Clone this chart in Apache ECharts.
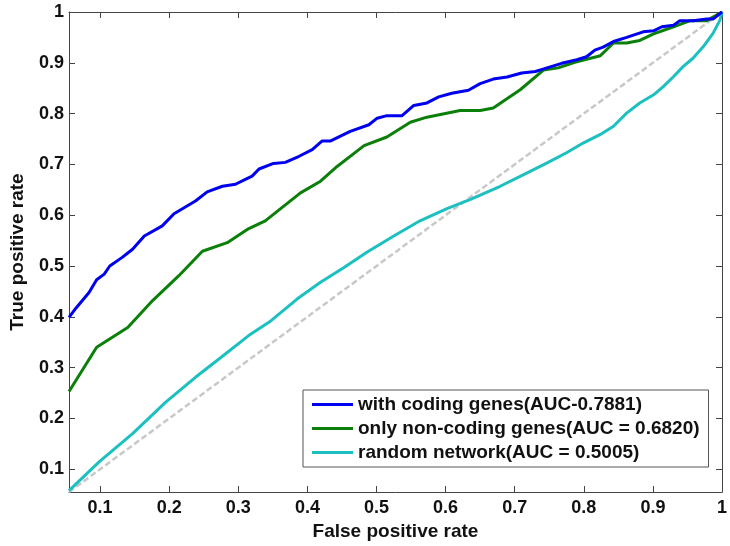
<!DOCTYPE html>
<html>
<head>
<meta charset="utf-8">
<script src="https://cdn.jsdelivr.net/npm/echarts@6/dist/echarts.min.js"></script>
<style>html,body{margin:0;padding:0;background:#fff;}#c{width:730px;height:546px;}</style>
</head>
<body>
<div id="c"></div>
<script>
const seriesNames = ['with coding genes(AUC-0.7881)', 'only non-coding genes(AUC = 0.6820)', 'random network(AUC = 0.5005)'];
const xLabelName = 'False positive rate';
const yLabelName = 'True positive rate';

const fprCoding = [0.055,0.065,0.084,0.095,0.106,0.114,0.132,0.147,0.164,0.190,0.207,0.238,0.255,0.277,0.296,0.308,0.320,0.330,0.351,0.368,0.388,0.407,0.421,0.433,0.462,0.489,0.501,0.515,0.537,0.554,0.573,0.590,0.609,0.633,0.650,0.669,0.689,0.710,0.730,0.742,0.768,0.790,0.804,0.816,0.828,0.843,0.862,0.886,0.901,0.913,0.930,0.939,0.958,0.978,0.987,1.0];
const tprCoding = [0.399,0.417,0.448,0.473,0.484,0.500,0.517,0.533,0.559,0.579,0.603,0.628,0.646,0.657,0.661,0.669,0.677,0.691,0.702,0.704,0.716,0.729,0.746,0.746,0.765,0.778,0.791,0.796,0.796,0.816,0.821,0.833,0.840,0.846,0.859,0.868,0.872,0.880,0.883,0.888,0.899,0.906,0.912,0.925,0.931,0.942,0.950,0.961,0.963,0.971,0.974,0.983,0.983,0.986,0.986,1.0];

const fprNonCoding = [0.055,0.095,0.140,0.176,0.214,0.248,0.284,0.313,0.339,0.354,0.390,0.419,0.443,0.482,0.515,0.549,0.573,0.621,0.650,0.669,0.708,0.742,0.763,0.787,0.824,0.843,0.862,0.881,0.901,0.930,0.954,0.978,1.0];
const tprNonCoding = [0.253,0.340,0.379,0.432,0.481,0.529,0.546,0.572,0.589,0.605,0.644,0.667,0.696,0.737,0.754,0.783,0.793,0.806,0.806,0.811,0.847,0.886,0.890,0.901,0.914,0.939,0.939,0.944,0.957,0.971,0.983,0.983,1.0];

const fprRandom = [0.055,0.099,0.147,0.195,0.238,0.272,0.315,0.347,0.385,0.419,0.453,0.486,0.525,0.563,0.602,0.636,0.679,0.713,0.747,0.775,0.799,0.824,0.843,0.862,0.881,0.901,0.915,0.930,0.944,0.958,0.973,0.987,0.997,1.0];
const tprRandom = [0.058,0.115,0.170,0.232,0.281,0.317,0.363,0.392,0.435,0.468,0.497,0.527,0.559,0.589,0.613,0.631,0.657,0.680,0.703,0.723,0.742,0.759,0.775,0.801,0.821,0.837,0.853,0.873,0.893,0.909,0.932,0.958,0.984,1.0];

const diagX = [0.055, 1.0];
const diagY = [0.055, 1.0];

const axisMin = 0.055, axisMax = 1;

function pairs(xs, ys) { return xs.map((x, i) => [x, ys[i]]); }

const font = 'Arial, "Liberation Sans", Helvetica, sans-serif';
const axisColor = '#444';

function mkX(pos, showLabel) {
  return {
    type: 'value', position: pos, min: axisMin, max: axisMax, splitNumber: 10,
    name: showLabel ? xLabelName : '', nameLocation: 'middle', nameGap: 27,
    nameTextStyle: { color: '#111', fontFamily: font, fontWeight: 'bold', fontSize: 19 },
    axisLine: { show: true, onZero: false, lineStyle: { color: axisColor, width: 1 } },
    axisTick: { show: true, inside: true, length: 6, lineStyle: { color: axisColor } },
    axisLabel: { show: showLabel, showMinLabel: false, margin: 7, color: '#111', fontFamily: font, fontWeight: 'bold', fontSize: 18 },
    splitLine: { show: false }
  };
}
function mkY(pos, showLabel) {
  return {
    type: 'value', position: pos, min: axisMin, max: axisMax, splitNumber: 10,
    name: showLabel ? yLabelName : '', nameLocation: 'middle', nameGap: 42,
    nameTextStyle: { color: '#111', fontFamily: font, fontWeight: 'bold', fontSize: 19 },
    axisLine: { show: true, onZero: false, lineStyle: { color: axisColor, width: 1 } },
    axisTick: { show: true, inside: true, length: 6, lineStyle: { color: axisColor } },
    axisLabel: { show: showLabel, showMinLabel: false, margin: 5, color: '#111', fontFamily: font, fontWeight: 'bold', fontSize: 18 },
    splitLine: { show: false }
  };
}

const colors = ['#0000f0', '#0a800a', '#1cc0c0'];

const chart = echarts.init(document.getElementById('c'), null, { renderer: 'canvas' });
chart.setOption({
  backgroundColor: '#fff',
  animation: false,
  grid: { left: 68, right: 8, top: 12, bottom: 52 },
  xAxis: [mkX('bottom', true), mkX('top', false)],
  yAxis: [mkY('left', true), mkY('right', false)],
  legend: {
    data: seriesNames,
    orient: 'vertical',
    left: 303, top: 390,
    padding: [5, 9, 5, 9],
    itemGap: 5,
    itemWidth: 41, itemHeight: 3,
    icon: 'rect',
    backgroundColor: '#fff',
    borderColor: '#555', borderWidth: 1,
    textStyle: { color: '#111', fontFamily: font, fontWeight: 'bold', fontSize: 19, lineHeight: 19 }
  },
  series: [
    { name: 'diag', type: 'line', data: pairs(diagX, diagY), symbol: 'none', z: 1,
      lineStyle: { color: '#c8c8c8', width: 2.5, type: [6, 3] } },
    { name: seriesNames[2], type: 'line', data: pairs(fprRandom, tprRandom), symbol: 'none', z: 2,
      itemStyle: { color: colors[2] }, lineStyle: { color: colors[2], width: 3 } },
    { name: seriesNames[1], type: 'line', data: pairs(fprNonCoding, tprNonCoding), symbol: 'none', z: 3,
      itemStyle: { color: colors[1] }, lineStyle: { color: colors[1], width: 3 } },
    { name: seriesNames[0], type: 'line', data: pairs(fprCoding, tprCoding), symbol: 'none', z: 4,
      itemStyle: { color: colors[0] }, lineStyle: { color: colors[0], width: 3 } }
  ]
});
</script>
</body>
</html>
